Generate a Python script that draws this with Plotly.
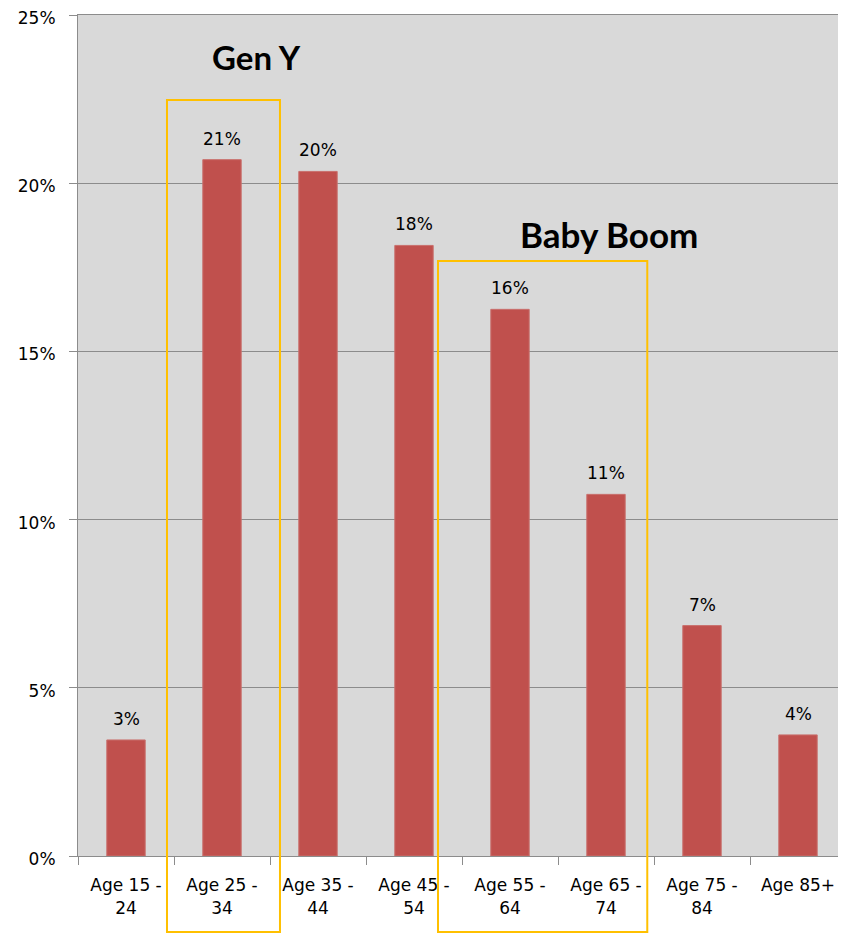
import plotly.graph_objects as go

# share of population by age band (%)
age_groups = ["Age 15 -<br>24", "Age 25 -<br>34", "Age 35 -<br>44", "Age 45 -<br>54",
              "Age 55 -<br>64", "Age 65 -<br>74", "Age 75 -<br>84", "Age 85+"]
share = [3.45, 20.7, 20.35, 18.15, 16.25, 10.75, 6.85, 3.6]
labels = [f"{round(v)}%" for v in share]

y_ticks = [0, 5, 10, 15, 20, 25]
y_max = 25

# generation highlight boxes: (name, first index, last index, box top in %, label y in %)
groups = [("Gen Y", 1, 1, 22.47, 23.75), ("Baby Boom", 4, 5, 17.69, 18.5)]

fig = go.Figure()
fig.add_trace(go.Bar(
    x=age_groups,
    y=share,
    marker=dict(color="#c0504d", line=dict(color="#c9706d", width=1)),
    width=0.4,
))

# value labels above bars
for cat, val, lab in zip(age_groups, share, labels):
    fig.add_annotation(x=cat, y=val, text=lab, showarrow=False,
                       yanchor="bottom", yshift=9,
                       font=dict(family="DejaVu Sans", size=17, color="#000000"))

box_pad = [(0.573, 0.604), (0.75, 0.43)]
for (name, i0, i1, top, label_y), (pl, pr) in zip(groups, box_pad):
    fig.add_shape(type="rect", xref="x", yref="paper",
                  x0=i0 - pl, x1=i1 + pr, y0=-0.0904, y1=top / y_max,
                  line=dict(color="#ffc000", width=2), fillcolor="rgba(0,0,0,0)")
    fig.add_annotation(x=(i0 + i1) / 2 + (0.36 if name == "Gen Y" else 0.53), y=label_y,
                       text=f"<b>{name}</b>", showarrow=False,
                       font=dict(family="Lato", size=33 if name == "Gen Y" else 35,
                                 color="#000000"))

fig.update_layout(
    width=846, height=933,
    margin=dict(l=70, r=8, t=7, b=85),
    plot_bgcolor="#d9d9d9",
    paper_bgcolor="#ffffff",
    showlegend=False,
    font=dict(family="DejaVu Sans", size=17, color="#000000"),
)
fig.update_xaxes(
    showline=True, linecolor="#8c8c8c", linewidth=1, mirror=True,
    ticks="outside", tickson="boundaries", ticklen=8, tickcolor="#8c8c8c",
    ticklabelstandoff=14, automargin=False,
    showgrid=False,
)
fig.update_yaxes(
    range=[0, y_max], tickvals=y_ticks, ticktext=[f"{v}%" for v in y_ticks],
    showline=True, linecolor="#8c8c8c", linewidth=1,
    ticks="outside", ticklen=8, tickcolor="#8c8c8c",
    ticklabelstandoff=10, ticklabeloverflow="allow", ticklabelshift=3,
    automargin=False,
    showgrid=True, gridcolor="#8c8c8c", gridwidth=1,
    zeroline=False,
)

fig.write_html("out.html")
